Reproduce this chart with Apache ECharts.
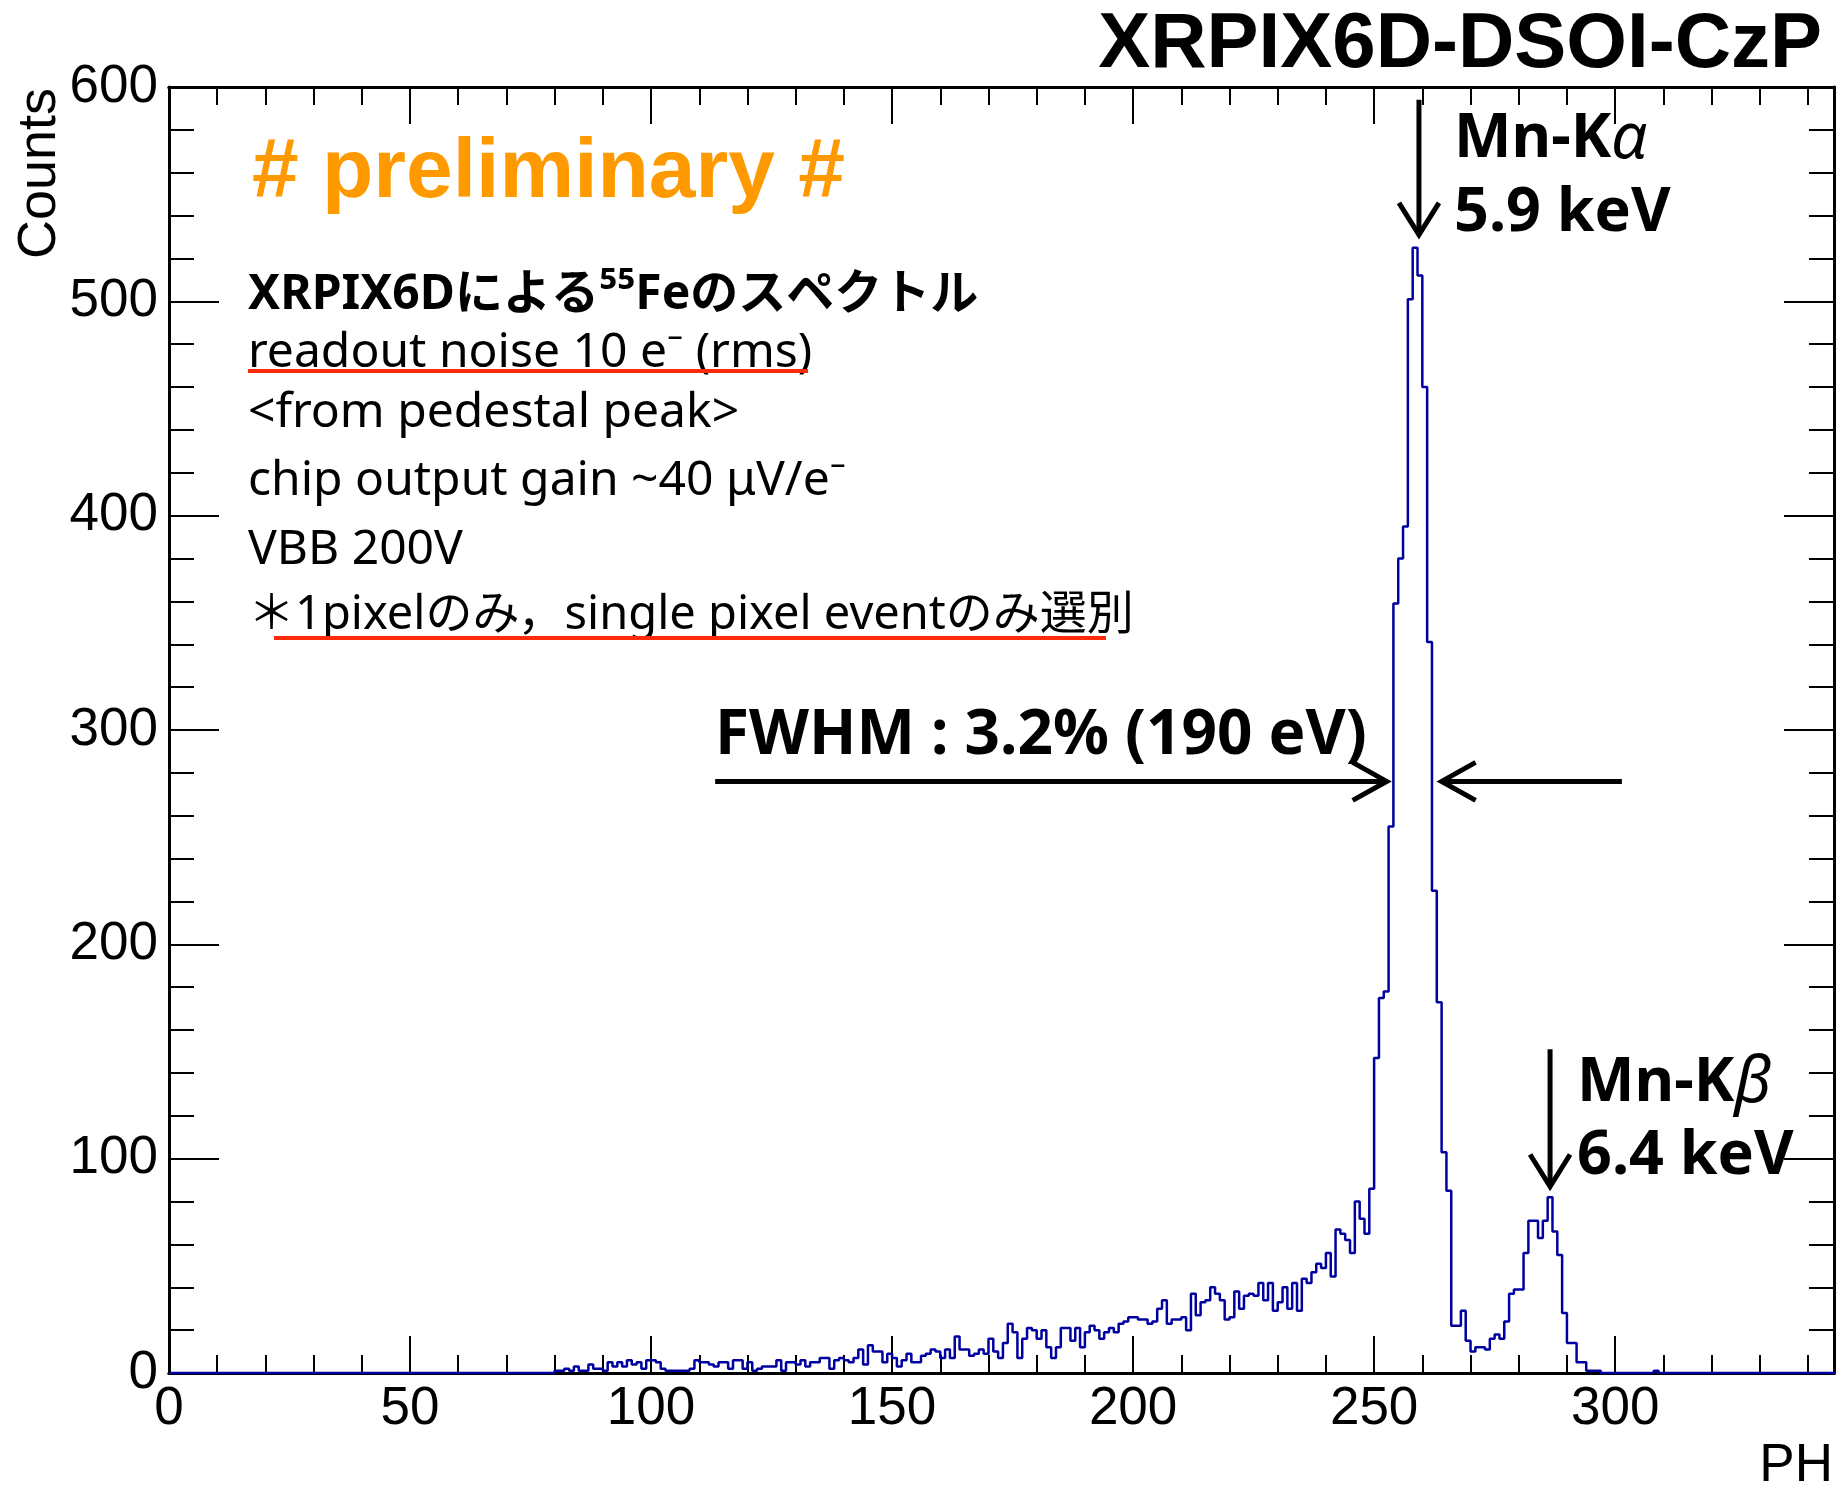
<!DOCTYPE html>
<html>
<head>
<meta charset="utf-8">
<script src="https://cdn.jsdelivr.net/npm/echarts@6/dist/echarts.min.js"></script>
<style>
  html, body { margin: 0; padding: 0; background: #fff; }
  #chart { width: 1837px; height: 1485px; }
</style>
</head>
<body>
<div id="chart"></div>
<script>
// 55Fe pulse-height spectrum, one bin per PH unit.
// Bins below firstBin and after the listed values are empty.
const firstBin = 80;
const binCounts = [
  1, 1, 2, 1, 3, 1, 1, 4, 2, 2,          // 80-89
  1, 5, 3, 5, 3, 6, 4, 5, 2, 6,          // 90-99
  6, 5, 2, 1, 1, 1, 1, 1, 2, 6,          // 100-109
  5, 5, 4, 3, 5, 5, 2, 6, 6, 2,          // 110-119
  5, 1, 2, 3, 3, 3, 6, 1, 5, 5,          // 120-129
  4, 6, 3, 5, 5, 7, 7, 2, 6, 7,          // 130-139
  6, 5, 7, 11, 4, 13, 10, 10, 5, 9,      // 140-149
  7, 3, 6, 9, 5, 5, 8, 9, 11, 10,        // 150-159
  7, 11, 7, 17, 11, 11, 8, 9, 11, 9,     // 160-169
  16, 10, 7, 14, 23, 19, 7, 16, 21, 20,  // 170-179
  16, 20, 12, 7, 12, 21, 21, 15, 21, 12, // 180-189
  19, 22, 20, 16, 19, 21, 19, 23, 24, 26,// 190-199
  26, 25, 25, 23, 24, 30, 34, 23, 25, 25,// 200-209
  26, 20, 37, 27, 33, 34, 40, 37, 34, 25,// 210-219
  26, 38, 30, 36, 37, 36, 42, 34, 42, 29,// 220-229
  33, 40, 30, 42, 29, 44, 42, 47, 51, 49,// 230-239
  56, 45, 67, 65, 62, 56, 80, 72, 65, 86,// 240-249
  147, 175, 178, 255, 359, 380, 395, 501, 525, 512, // 250-259
  460, 341, 225, 173, 103, 85, 22, 22, 29, 15,      // 260-269
  10, 12, 12, 11, 16, 18, 16, 24, 37, 39,           // 270-279
  39, 56, 71, 71, 63, 71, 82, 66, 55, 28,           // 280-289
  14, 14, 5, 5, 1, 1, 1, 0, 0, 0,                   // 290-299
  0, 0, 0, 0, 0, 0, 0, 0, 1                         // 300-308
];
const nBins = 346;
const xRange = [0, 345.4];
const yRange = [0, 600];
const xMajorStep = 50, xMinorStep = 10;
const yMajorStep = 100;

// Line annotations, in PH / Counts coordinates
const kAlphaPH = 259.3, kBetaPH = 286.5;
const fwhmLevel = 276;

const FONT_AXIS = '"Liberation Sans", Arial, sans-serif';
const FONT_NOTE = '"Noto Sans", "Noto Sans CJK JP", sans-serif';
const HIST_COLOR = '#0000a0';

// Bin edges with counts, drawn as a ROOT-style step outline
const stepData = [];
for (let i = 0; i <= nBins; i++) {
  const k = i - firstBin;
  stepData.push([i, (k >= 0 && k < binCounts.length) ? binCounts[k] : 0]);
}

function xAxisDef(position, interval, tickLen, withLabels) {
  return {
    type: 'value', gridIndex: 0, position: position,
    min: xRange[0], max: xRange[1], interval: interval,
    axisLine: { show: true, onZero: false, lineStyle: { color: '#000', width: 3 } },
    axisTick: { show: true, inside: true, length: tickLen, lineStyle: { color: '#000', width: 2 } },
    axisLabel: {
      show: withLabels, showMaxLabel: false, margin: 10,
      color: '#000', fontFamily: FONT_AXIS, fontSize: 53
    },
    splitLine: { show: false }
  };
}
function yAxisDef(position, withLabels) {
  return {
    type: 'value', gridIndex: 0, position: position,
    min: yRange[0], max: yRange[1], interval: yMajorStep,
    axisLine: { show: true, onZero: false, lineStyle: { color: '#000', width: 3 } },
    axisTick: { show: true, inside: true, length: 50, lineStyle: { color: '#000', width: 2 } },
    minorTick: { show: true, splitNumber: 5, length: 25, lineStyle: { color: '#000', width: 2 } },
    axisLabel: {
      show: withLabels, margin: 11,
      color: '#000', fontFamily: FONT_AXIS, fontSize: 53
    },
    splitLine: { show: false },
    minorSplitLine: { show: false }
  };
}

const chart = echarts.init(document.getElementById('chart'));

chart.setOption({
  animation: false,
  backgroundColor: '#fff',
  grid: { left: 169, top: 87, width: 1665, height: 1286, containLabel: false },
  xAxis: [
    xAxisDef('bottom', xMajorStep, 37, true),
    xAxisDef('bottom', xMinorStep, 18, false),
    xAxisDef('top', xMajorStep, 37, false),
    xAxisDef('top', xMinorStep, 18, false)
  ],
  yAxis: [
    yAxisDef('left', true),
    yAxisDef('right', false)
  ],
  series: [{
    name: 'PH',
    type: 'line',
    xAxisIndex: 0, yAxisIndex: 0,
    step: 'end',
    showSymbol: false,
    symbol: 'none',
    sampling: null,
    clip: true,
    lineStyle: { color: HIST_COLOR, width: 2.5 },
    data: stepData
  }]
});

const toPx = (x, y) => chart.convertToPixel({ gridIndex: 0 }, [x, y]);

function arrow(from, to, headLen, headHalf) {
  const a = toPx(from[0], from[1]);
  const b = toPx(to[0], to[1]);
  const dx = b[0] - a[0], dy = b[1] - a[1];
  const len = Math.hypot(dx, dy);
  const ux = dx / len, uy = dy / len;
  const bx = b[0] - ux * headLen, by = b[1] - uy * headLen;
  const lineStyle = { stroke: '#000', lineWidth: 5, lineJoin: 'miter', fill: null };
  return [
    { type: 'line', silent: true, shape: { x1: a[0], y1: a[1], x2: b[0] - ux * 2, y2: b[1] - uy * 2 }, style: lineStyle },
    { type: 'polyline', silent: true,
      shape: { points: [[bx - uy * headHalf, by + ux * headHalf], [b[0], b[1]], [bx + uy * headHalf, by - ux * headHalf]] },
      style: lineStyle }
  ];
}

function label(x, y, text, size, weight, opts) {
  return Object.assign({
    type: 'text', silent: true, x: x, y: y,
    style: Object.assign({
      text: text, fill: '#000',
      fontFamily: FONT_NOTE, fontSize: size, fontWeight: weight,
      align: 'left', verticalAlign: 'middle'
    }, (opts && opts.style) || {})
  }, (opts && opts.el) || {});
}

const kRich = {
  n: { fontFamily: FONT_NOTE, fontSize: 61, fontWeight: 'bold', fill: '#000' },
  g: { fontFamily: FONT_NOTE, fontSize: 64, fontWeight: 'normal', fontStyle: 'italic', fill: '#000' }
};

const graphics = [
  // title and axis titles
  label(1822, 45, 'XRPIX6D-DSOI-CzP', 78, 'bold', { style: { fontFamily: FONT_AXIS, align: 'right' } }),
  label(40, 88, 'Counts', 54, 'normal', { style: { fontFamily: FONT_AXIS, align: 'right' }, el: { rotation: Math.PI / 2 } }),
  label(1833, 1466, 'PH', 53, 'normal', { style: { fontFamily: FONT_AXIS, align: 'right' } }),

  label(252, 174, '# preliminary #', 84, 'bold', { style: { fontFamily: FONT_AXIS, fill: '#ff9900' } }),

  // measurement notes
  label(248, 295, 'XRPIX6Dによる⁵⁵Feのスペクトル', 48, 'bold'),
  label(248, 353, 'readout noise 10 e⁻ (rms)', 48, 'normal'),
  label(248, 413, '<from pedestal peak>', 48, 'normal'),
  label(248, 481, 'chip output gain ~40 μV/e⁻', 48, 'normal'),
  label(248, 550, 'VBB 200V', 48, 'normal'),
  label(248, 616, '＊1pixelのみ，single pixel eventのみ選別', 47, 'normal'),
  { type: 'line', silent: true, shape: { x1: 248, y1: 371, x2: 808, y2: 371 }, style: { stroke: '#ff2a0a', lineWidth: 4 } },
  { type: 'line', silent: true, shape: { x1: 274, y1: 638, x2: 1106, y2: 638 }, style: { stroke: '#ff2a0a', lineWidth: 4 } },

  // line identifications
  label(1454, 140, '{n|Mn-K}{g|α}', 61, 'bold', { style: { rich: kRich } }),
  label(1454, 214, '5.9 keV', 61, 'bold'),
  label(1577, 1084, '{n|Mn-K}{g|β}', 61, 'bold', { style: { rich: kRich } }),
  label(1577, 1157, '6.4 keV', 61, 'bold'),

  label(715, 736, 'FWHM : 3.2% (190 eV)', 62, 'bold')
].concat(
  arrow([kAlphaPH, 594], [kAlphaPH, 531], 32, 20),
  arrow([kBetaPH, 151], [kBetaPH, 87], 32, 20),
  arrow([113.3, fwhmLevel], [252.6, fwhmLevel], 34, 19),
  arrow([301.4, fwhmLevel], [264.0, fwhmLevel], 34, 19)
);

chart.setOption({ graphic: { elements: graphics } });
</script>
</body>
</html>
